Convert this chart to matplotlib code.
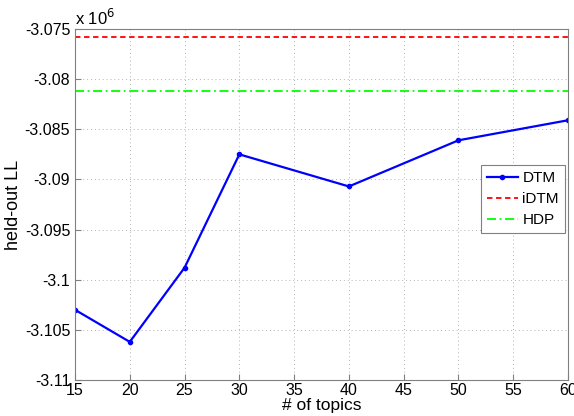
import matplotlib
matplotlib.use("Agg")
import matplotlib.pyplot as plt

plt.rcParams["font.family"] = ["Liberation Sans", "DejaVu Sans"]

# held-out log likelihood, in units of 1e6
topics = [15, 20, 25, 30, 40, 50, 60]
dtm_ll = [-3.1030, -3.1062, -3.0988, -3.0875, -3.0907, -3.0861, -3.0841]
idtm_ll = -3.0758
hdp_ll = -3.0812

fig = plt.figure(figsize=(5.74, 4.16), dpi=100)
ax = fig.add_axes([75 / 574, 1 - 380 / 416, (568 - 75) / 574, (380 - 29) / 416])

ax.plot(topics, dtm_ll, color="#0000ff", linewidth=1.6, marker=".", markersize=6, label="DTM")
ax.axhline(idtm_ll, color="#ff0000", linestyle=(0, (3, 2)), linewidth=1.3, label="iDTM")
ax.axhline(hdp_ll, color="#00ff00", linestyle=(0, (5, 2, 1, 2)), linewidth=1.3, label="HDP")

ax.set_xlim(15, 60)
ax.set_ylim(-3.11, -3.075)
ax.set_xticks(range(15, 61, 5))
yt = [-3.11, -3.105, -3.1, -3.095, -3.09, -3.085, -3.08, -3.075]
ax.set_yticks(yt)
ax.set_yticklabels([("%g" % v) for v in yt])
ax.tick_params(labelsize=11.5, direction="in", length=4, color="#808080")
ax.tick_params(axis="x", pad=2)
ax.grid(True, linestyle=(0, (1, 3)), color="#b4b4b4", linewidth=0.7)
for s in ax.spines.values():
    s.set_color("#808080")

ax.set_xlabel("# of topics", fontsize=12.5, labelpad=0)
ax.set_ylabel("held-out LL", fontsize=13, labelpad=2)
ax.text(0.0, 1.002, "x 10$^6$", transform=ax.transAxes, fontsize=12, va="bottom", ha="left")

leg = ax.legend(loc="upper left", bbox_to_anchor=(406 / 493, 1 - 136 / 351), fontsize=11,
                fancybox=False, framealpha=1, edgecolor="#808080", handlelength=2.0,
                borderpad=0.4, labelspacing=0.45, handletextpad=0.3, borderaxespad=0)
leg.get_frame().set_linewidth(0.8)

fig.savefig("out.png", dpi=100)
